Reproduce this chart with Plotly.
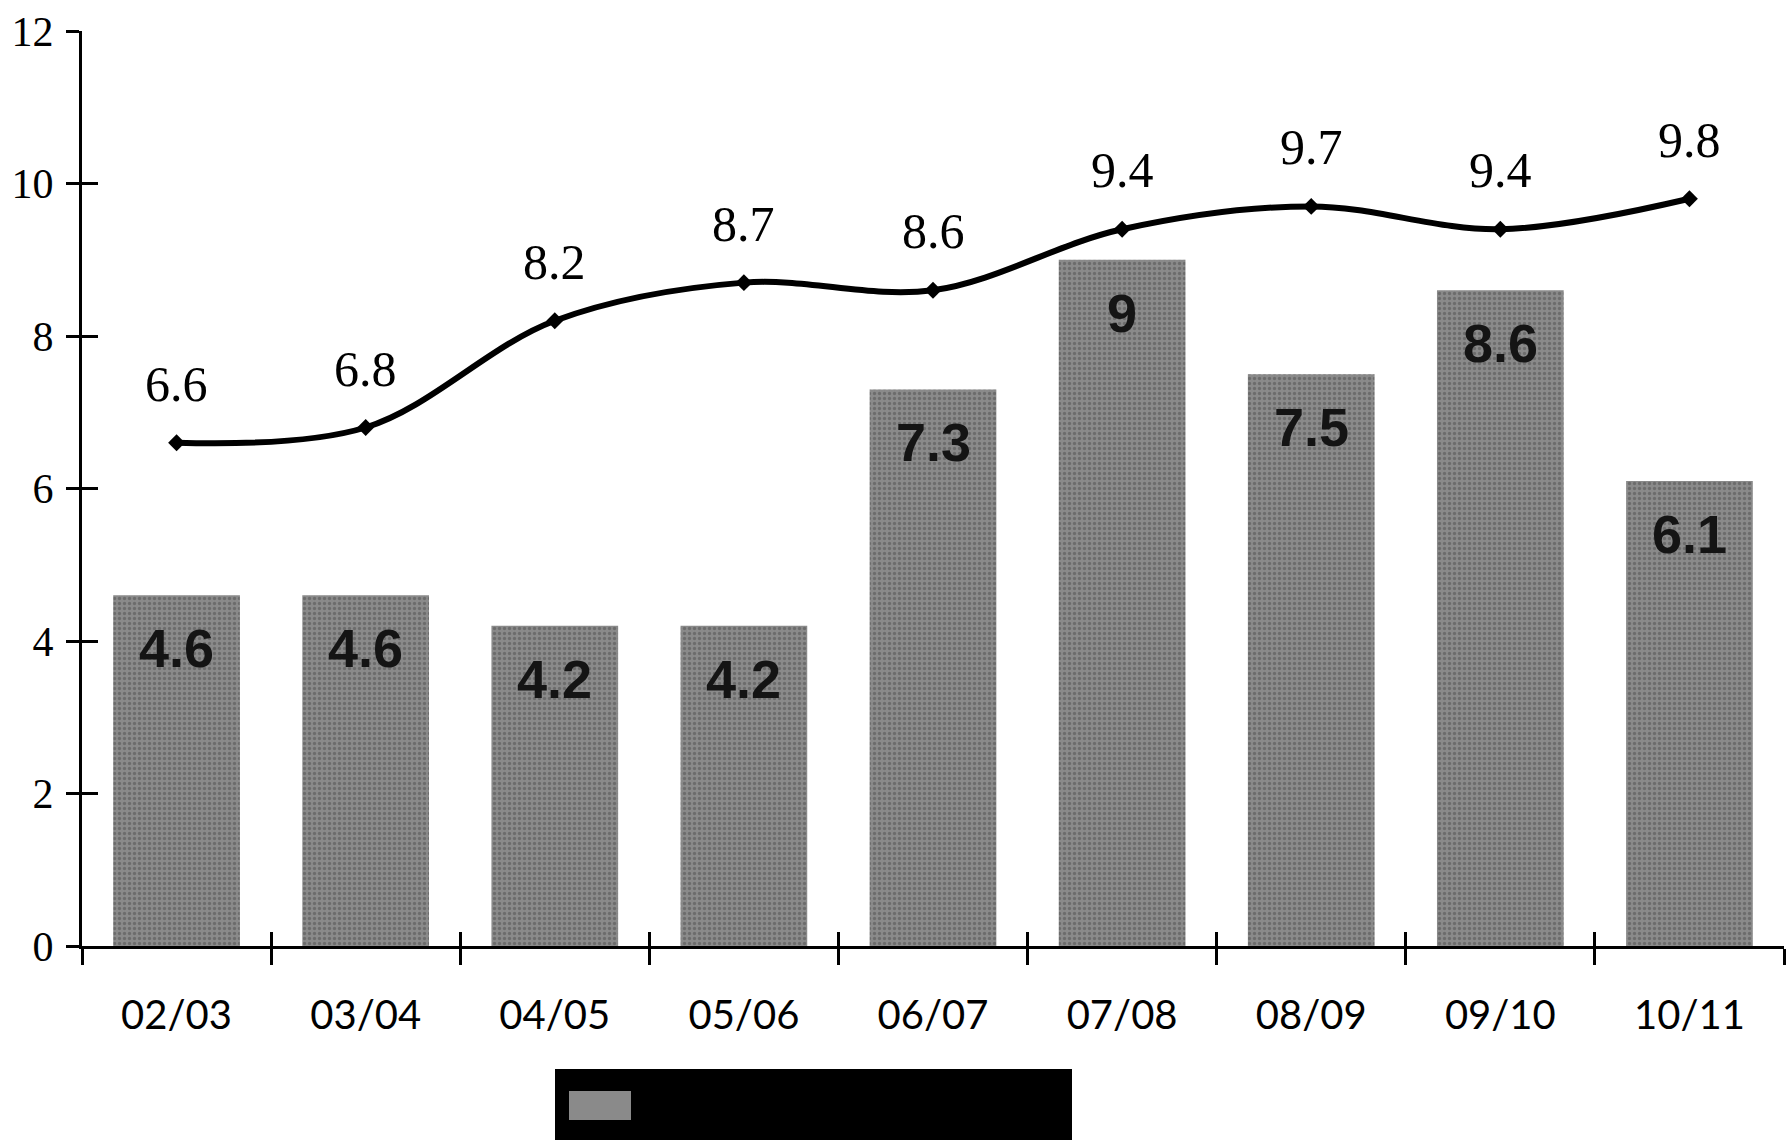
import plotly.graph_objects as go

categories = ["02/03", "03/04", "04/05", "05/06", "06/07", "07/08", "08/09", "09/10", "10/11"]
bar_values = [4.6, 4.6, 4.2, 4.2, 7.3, 9.0, 7.5, 8.6, 6.1]
line_values = [6.6, 6.8, 8.2, 8.7, 8.6, 9.4, 9.7, 9.4, 9.8]
bar_labels = ["4.6", "4.6", "4.2", "4.2", "7.3", "9", "7.5", "8.6", "6.1"]
line_labels = ["6.6", "6.8", "8.2", "8.7", "8.6", "9.4", "9.7", "9.4", "9.8"]
y_ticks = [0, 2, 4, 6, 8, 10, 12]

W, H = 1792, 1141
ML, MR, MT, MB = 82, 8, 31, 195

fig = go.Figure()

fig.add_trace(go.Bar(
    x=categories, y=bar_values,
    marker=dict(color="#808080", line=dict(width=0),
                pattern=dict(shape=".", fgcolor="#4d4d4d", bgcolor="#8a8a8a", size=5, solidity=0.35)),
    showlegend=False, hoverinfo="skip",
))

fig.add_trace(go.Scatter(
    x=categories, y=line_values, mode="lines+markers",
    line=dict(color="black", width=6, shape="spline", smoothing=1),
    marker=dict(symbol="diamond", size=13, color="black"),
    showlegend=False, hoverinfo="skip",
))

# invisible trace to carry the overlay axes (crossing ticks)
fig.add_trace(go.Scatter(
    x=categories, y=bar_values, xaxis="x2", yaxis="y2", mode="markers",
    marker=dict(opacity=0), showlegend=False, hoverinfo="skip",
))

annotations = []
for c, v, t in zip(categories, bar_values, bar_labels):
    annotations.append(dict(
        x=c, y=v, text="<b>" + t + "</b>", showarrow=False, yanchor="middle", yshift=-53,
        font=dict(family="Liberation Sans, Arial", size=54, color="#141414"),
    ))
for c, v, t in zip(categories, line_values, line_labels):
    annotations.append(dict(
        x=c, y=v, text=t, showarrow=False, yanchor="middle", yshift=59,
        font=dict(family="Liberation Serif, Times New Roman", size=50, color="black"),
    ))

def px_x(p):
    return (p - ML) / (W - ML - MR)

def px_y(p):
    return (H - MB - p) / (H - MT - MB)

shapes = [
    dict(type="rect", xref="paper", yref="paper",
         x0=px_x(555), x1=px_x(1072), y0=px_y(1140), y1=px_y(1069),
         fillcolor="black", line=dict(width=0), layer="above"),
    dict(type="rect", xref="paper", yref="paper",
         x0=px_x(569), x1=px_x(631), y0=px_y(1120), y1=px_y(1091),
         fillcolor="#8a8a8a", line=dict(width=0), layer="above"),
]

fig.update_layout(
    width=W, height=H, autosize=False,
    margin=dict(l=ML, r=MR, t=MT, b=MB, autoexpand=False),
    paper_bgcolor="white", plot_bgcolor="white",
    bargap=0.33,
    annotations=annotations,
    shapes=shapes,
    xaxis=dict(
        type="category", categoryarray=categories, range=[-0.5, 8.5], automargin=False,
        tickson="boundaries", ticks="outside", ticklen=16, tickwidth=3, tickcolor="black",
        showline=True, linewidth=3, linecolor="black", showgrid=False, zeroline=False,
        tickfont=dict(family="Lato, Open Sans", size=40, color="black"),
        ticklabelstandoff=32,
    ),
    yaxis=dict(
        range=[0, 12], tickvals=y_ticks, ticks="outside", ticklen=13, tickwidth=3, tickcolor="black",
        showline=True, linewidth=3, linecolor="black", showgrid=False, zeroline=False, automargin=False,
        tickfont=dict(family="Liberation Serif, Times New Roman", size=42, color="black"),
        ticklabelstandoff=4,
    ),
    xaxis2=dict(
        type="category", categoryarray=categories, range=[-0.5, 8.5], overlaying="x", anchor="y",
        tickson="boundaries", ticks="inside", ticklen=14, tickwidth=3, tickcolor="black", automargin=False,
        showticklabels=False, showline=False, showgrid=False, zeroline=False,
    ),
    yaxis2=dict(
        range=[0, 12], tickvals=y_ticks, overlaying="y", anchor="x", side="left", automargin=False,
        ticks="inside", ticklen=16, tickwidth=3, tickcolor="black",
        showticklabels=False, showline=False, showgrid=False, zeroline=False,
    ),
)

fig.write_html("out.html")
